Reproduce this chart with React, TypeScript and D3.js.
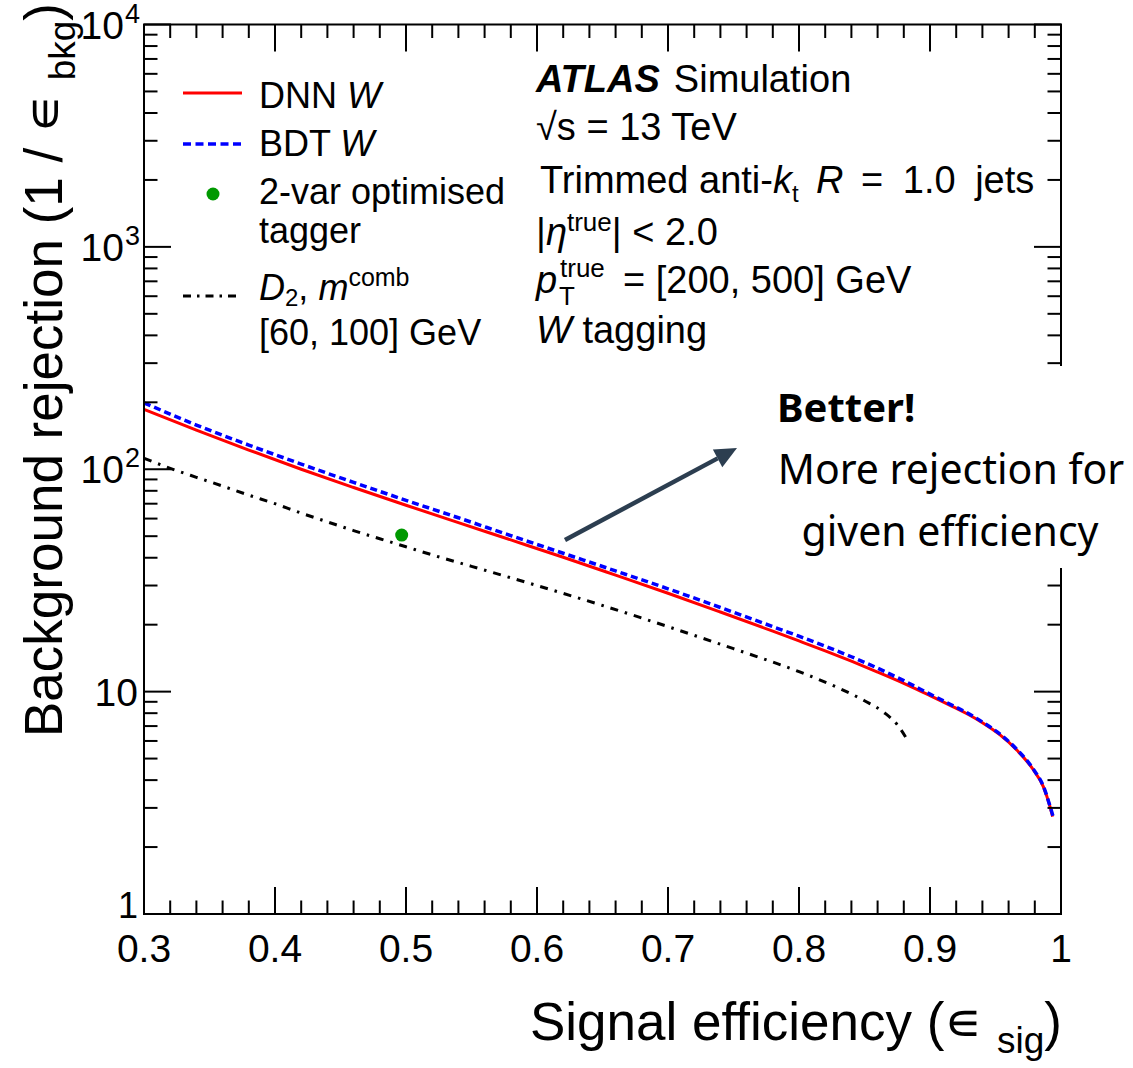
import React from 'react';
import * as d3 from 'd3';

// ---- data ----
const dnnEff = [0.30, 0.34, 0.38, 0.42, 0.46, 0.50, 0.54, 0.58, 0.62, 0.66, 0.70, 0.74, 0.78, 0.80, 0.82, 0.84, 0.86, 0.88, 0.90, 0.915, 0.93, 0.94, 0.953, 0.966, 0.979, 0.9865, 0.9916, 0.9936];
const dnnRej = [186, 150, 122, 100, 82.8, 68.9, 57.5, 48.1, 40.2, 33.4, 27.7, 22.8, 18.7, 16.9, 15.25, 13.7, 12.25, 10.9, 9.6, 8.7, 7.85, 7.25, 6.42, 5.48, 4.44, 3.74, 3.04, 2.74];

const bdtEff = [0.30, 0.34, 0.38, 0.42, 0.46, 0.50, 0.54, 0.58, 0.62, 0.66, 0.70, 0.74, 0.78, 0.80, 0.82, 0.84, 0.86, 0.88, 0.90, 0.915, 0.93, 0.94, 0.953, 0.966, 0.979, 0.9865, 0.9916, 0.9945];
const bdtRej = [199, 158, 128.5, 105.5, 87.3, 72.5, 60.5, 50.3, 41.9, 34.9, 29.0, 23.9, 19.6, 17.75, 16.0, 14.35, 12.75, 11.2, 9.75, 8.8, 7.93, 7.3, 6.47, 5.52, 4.47, 3.76, 3.06, 2.68];

const d2Eff = [0.30, 0.32, 0.34, 0.36, 0.38, 0.40, 0.42, 0.44, 0.46, 0.48, 0.50, 0.52, 0.55, 0.60, 0.65, 0.70, 0.75, 0.80, 0.83, 0.85, 0.865, 0.875, 0.8835];
const d2Rej = [112, 101, 92, 84, 76.5, 70, 63.5, 58, 53, 48.7, 44.8, 41.2, 36.6, 30, 24.4, 19.6, 15.6, 12.3, 10.4, 9.1, 8.05, 7.1, 5.96];

const twoVarEff = [0.4967];
const twoVarRej = [50.6];

const xTickLabels = ['0.3', '0.4', '0.5', '0.6', '0.7', '0.8', '0.9', '1'];
const yDecades = [1, 10, 100, 1000, 10000];

const FONT = "'Liberation Sans', Arial, Helvetica, sans-serif";

export default function App() {
  const W = 1133, H = 1068;
  const left = 144, right = 1061, top = 24.5, bottom = 914;
  const x = d3.scaleLinear().domain([0.3, 1.0]).range([left, right]);
  const y = d3.scaleLog().domain([1, 10000]).range([bottom, top]);

  const line = d3.line<[number, number]>()
    .x(d => x(d[0])).y(d => y(d[1])).curve(d3.curveMonotoneX);
  const zip = (a: number[], b: number[]) => a.map((v, i) => [v, b[i]] as [number, number]);

  const majorX = d3.range(0, 8).map(i => 0.3 + i * 0.1);
  const minorX = d3.range(0, 36).map(i => 0.3 + i * 0.02).filter((v, i) => i % 5 !== 0 && v <= 1.0001);
  const minorY: number[] = [];
  for (let d = 0; d < 4; d++) for (let k = 2; k <= 9; k++) minorY.push(k * Math.pow(10, d));

  const MAJ = 27, MIN = 13.5;
  const tickStyle = { stroke: '#000', strokeWidth: 2 };

  // arrow
  const ax1 = 565, ay1 = 540, ax2 = 737, ay2 = 448;
  const ang = Math.atan2(ay2 - ay1, ax2 - ax1);
  const hl = 22, hw = 10;
  const bx = ax2 - hl * Math.cos(ang), by = ay2 - hl * Math.sin(ang);
  const head = `${ax2},${ay2} ${bx + hw * Math.sin(ang)},${by - hw * Math.cos(ang)} ${bx - hw * Math.sin(ang)},${by + hw * Math.cos(ang)}`;

  const legFs = 36;
  const txtFs = 38;
  const tx = 536;

  return (
    <svg width={W} height={H} style={{ position: 'absolute', left: 0, top: 0, background: '#fff' }} fontFamily={FONT}>
      <rect x={0} y={0} width={W} height={H} fill="#fff" />

      {/* curves */}
      <path d={line(zip(d2Eff, d2Rej)) || ''} fill="none" stroke="#000" strokeWidth={3} strokeDasharray="8,7,2.5,7" />
      <path d={line(zip(dnnEff, dnnRej)) || ''} fill="none" stroke="#ff0000" strokeWidth={3} />
      <path d={line(zip(bdtEff, bdtRej)) || ''} fill="none" stroke="#0000ff" strokeWidth={3.5} strokeDasharray="7,4" />
      {twoVarEff.map((e, i) => (
        <circle key={i} cx={x(e)} cy={y(twoVarRej[i])} r={6.5} fill="#009900" />
      ))}

      {/* frame */}
      <rect x={left} y={top} width={right - left} height={bottom - top} fill="none" stroke="#000" strokeWidth={2} />

      {/* x ticks */}
      {majorX.map((v, i) => (
        <g key={'mx' + i}>
          <line x1={x(v)} x2={x(v)} y1={bottom} y2={bottom - MAJ} {...tickStyle} />
          <line x1={x(v)} x2={x(v)} y1={top} y2={top + MAJ} {...tickStyle} />
          <text x={x(v)} y={962} fontSize={39} textAnchor="middle">{xTickLabels[i]}</text>
        </g>
      ))}
      {minorX.map((v, i) => (
        <g key={'nx' + i}>
          <line x1={x(v)} x2={x(v)} y1={bottom} y2={bottom - MIN} {...tickStyle} />
          <line x1={x(v)} x2={x(v)} y1={top} y2={top + MIN} {...tickStyle} />
        </g>
      ))}

      {/* y ticks */}
      {yDecades.map((v, i) => (
        <g key={'my' + i}>
          <line x1={left} x2={left + MAJ} y1={y(v)} y2={y(v)} {...tickStyle} />
          <line x1={right} x2={right - MAJ} y1={y(v)} y2={y(v)} {...tickStyle} />
          {i < 2 ? (
            <text x={138} y={i === 0 ? y(v) + 4 : y(v) + 14} fontSize={i === 0 ? 36 : 39} textAnchor="end">{i === 0 ? '1' : '10'}</text>
          ) : (
            <g>
              <text x={124} y={y(v) + 14} fontSize={39} textAnchor="end">10</text>
              <text x={125} y={y(v) - 2} fontSize={27} textAnchor="start">{String(i)}</text>
            </g>
          )}
        </g>
      ))}
      {minorY.map((v, i) => (
        <g key={'ny' + i}>
          <line x1={left} x2={left + MIN} y1={y(v)} y2={y(v)} {...tickStyle} />
          <line x1={right} x2={right - MIN} y1={y(v)} y2={y(v)} {...tickStyle} />
        </g>
      ))}

      {/* axis titles */}
      <text x={1062} y={1040} fontSize={53} textAnchor="end">
        Signal efficiency (∊ <tspan fontSize={37} dy={13}>sig</tspan><tspan dy={-13}>)</tspan>
      </text>
      <text transform="translate(62,737) rotate(-90)" fontSize={53} textAnchor="start">
        Background rejection (1 / ∊ <tspan fontSize={37} dy={13}>bkg</tspan><tspan dy={-13}>)</tspan>
      </text>

      {/* legend */}
      <line x1={183} x2={242} y1={93} y2={93} stroke="#ff0000" strokeWidth={3} />
      <text x={259} y={108} fontSize={legFs}>DNN <tspan fontStyle="italic">W</tspan></text>
      <line x1={183} x2={242} y1={144} y2={144} stroke="#0000ff" strokeWidth={3.5} strokeDasharray="8,4.5" />
      <text x={259} y={156} fontSize={legFs}>BDT <tspan fontStyle="italic">W</tspan></text>
      <circle cx={213} cy={194} r={6.5} fill="#009900" />
      <text x={259} y={204} fontSize={legFs}>2-var optimised</text>
      <text x={259} y={243} fontSize={legFs}>tagger</text>
      <line x1={183} x2={240} y1={296} y2={296} stroke="#000" strokeWidth={3} strokeDasharray="8,6,2.5,6" />
      <text x={259} y={300} fontSize={legFs}>
        <tspan fontStyle="italic">D</tspan><tspan fontSize={24} dy={6}>2</tspan><tspan dy={-6}>, </tspan><tspan fontStyle="italic">m</tspan><tspan fontSize={25} dy={-14}>comb</tspan>
      </text>
      <text x={259} y={345} fontSize={legFs}>[60, 100] GeV</text>

      {/* ATLAS block */}
      <text x={tx} y={92} fontSize={txtFs}>
        <tspan fontWeight="bold" fontStyle="italic">ATLAS</tspan><tspan dx={14}>Simulation</tspan>
      </text>
      <text x={tx} y={140} fontSize={txtFs}>√s = 13 TeV</text>
      <text x={tx + 4} y={193} fontSize={txtFs}>Trimmed anti-</text>
      <text x={773} y={193} fontSize={txtFs} fontStyle="italic">k</text>
      <text x={792} y={202} fontSize={24}>t</text>
      <text x={816} y={193} fontSize={txtFs} fontStyle="italic">R</text>
      <text x={861} y={193} fontSize={txtFs} wordSpacing={9}>= 1.0 jets</text>
      <text x={tx} y={245} fontSize={txtFs}>
        |<tspan fontStyle="italic">η</tspan><tspan fontSize={26} dy={-14}>true</tspan><tspan dy={14}>| &lt; 2.0</tspan>
      </text>
      <text x={tx} y={293} fontSize={txtFs} fontStyle="italic">p</text>
      <text x={560} y={277} fontSize={26}>true</text>
      <text x={559} y={305} fontSize={26}>T</text>
      <text x={623} y={293} fontSize={txtFs}>= [200, 500] GeV</text>
      <text x={tx} y={343} fontSize={txtFs}>
        <tspan fontStyle="italic">W</tspan> tagging
      </text>

      {/* annotation */}
      <rect x={765} y={366} width={368} height={202} fill="#fff" />
      <line x1={ax1} y1={ay1} x2={bx} y2={by} stroke="#2c3e50" strokeWidth={4.5} />
      <polygon points={head} fill="#2c3e50" />
      <g fontFamily="'Noto Sans', 'Open Sans', sans-serif">
        <text x={777} y={422} fontSize={40} fontWeight="bold">Better!</text>
        <text x={951} y={484} fontSize={41} textAnchor="middle">More rejection for</text>
        <text x={950} y={546} fontSize={41} textAnchor="middle">given efficiency</text>
      </g>
    </svg>
  );
}
